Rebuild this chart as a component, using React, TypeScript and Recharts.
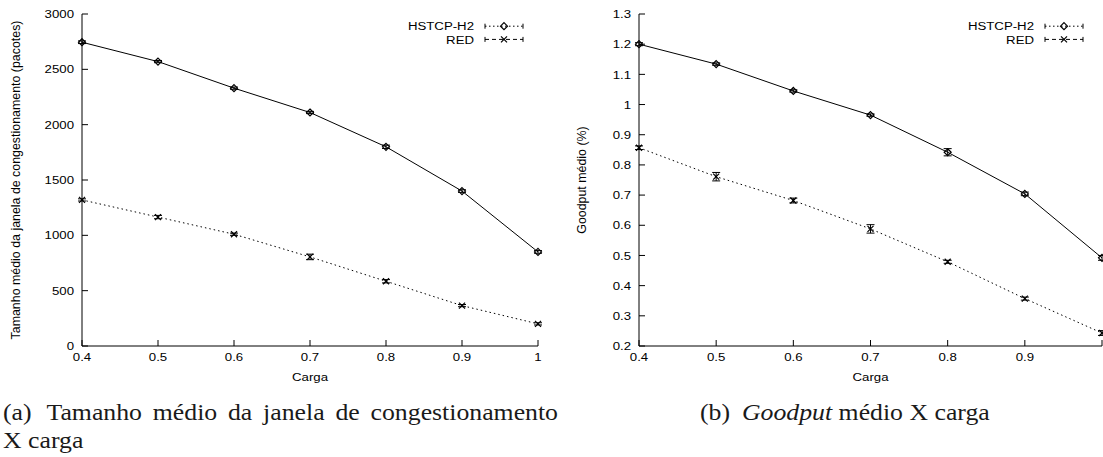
import { LineChart, Line, XAxis, YAxis, ErrorBar, Legend, Label } from 'recharts';

const carga = [0.4, 0.5, 0.6, 0.7, 0.8, 0.9, 1];

const janelaHstcp = [2745, 2570, 2330, 2110, 1800, 1400, 850];
const janelaHstcpErr = [12, 10, 10, 10, 15, 12, 12];
const janelaRed = [1320, 1165, 1010, 805, 585, 365, 200];
const janelaRedErr = [10, 15, 10, 25, 15, 10, 10];

const goodputHstcp = [1.2, 1.134, 1.045, 0.965, 0.842, 0.704, 0.492];
const goodputHstcpErr = [0.005, 0.004, 0.004, 0.004, 0.012, 0.006, 0.008];
const goodputRed = [0.857, 0.761, 0.682, 0.588, 0.479, 0.357, 0.243];
const goodputRedErr = [0.006, 0.014, 0.008, 0.014, 0.005, 0.005, 0.008];

const janelaTicks = [0, 500, 1000, 1500, 2000, 2500, 3000];
const goodputTicks = [0.2, 0.3, 0.4, 0.5, 0.6, 0.7, 0.8, 0.9, 1, 1.1, 1.2, 1.3];

const FONT = '"Liberation Sans", Arial, sans-serif';
const SERIF = '"Liberation Serif", "Times New Roman", serif';
const TICK = 6;
// the figure is a bit stretched sideways, text too
const SX = 1.15;

const fmt1 = (v: number) => (v === 1 ? '1' : v.toFixed(1));
const fmt0 = (v: number) => String(v);

const janelaData = carga.map((c, i) => ({
  carga: c,
  hstcp: janelaHstcp[i],
  hstcpErr: janelaHstcpErr[i],
  red: janelaRed[i],
  redErr: janelaRedErr[i],
}));

const goodputData = carga.map((c, i) => ({
  carga: c,
  hstcp: goodputHstcp[i],
  hstcpErr: goodputHstcpErr[i],
  red: goodputRed[i],
  redErr: goodputRedErr[i],
}));

function SText({ x, y, anchor, dy, children }: any) {
  return (
    <text
      transform={`translate(${x} ${y}) scale(${SX} 1)`}
      textAnchor={anchor}
      dy={dy}
      fontSize={11.5}
      fontFamily={FONT}
      fill="#000"
    >
      {children}
    </text>
  );
}

function Diamond({ cx, cy }: any) {
  if (cx == null || cy == null) return null;
  const s = 3.5;
  return (
    <path
      d={`M${cx},${cy - s}L${cx + s},${cy}L${cx},${cy + s}L${cx - s},${cy}Z`}
      fill="none"
      stroke="#000"
      strokeWidth={1.2}
    />
  );
}

function Cross({ cx, cy }: any) {
  if (cx == null || cy == null) return null;
  const s = 3;
  return (
    <path
      d={`M${cx - s},${cy - s}L${cx + s},${cy + s}M${cx - s},${cy + s}L${cx + s},${cy - s}`}
      stroke="#000"
      strokeWidth={1.2}
    />
  );
}

const bottomTick = (hideLast: boolean) => ({ x, y, payload }: any) => (
  <g>
    <line x1={x} x2={x} y1={y - 6} y2={y - 6 - TICK} stroke="#000" />
    {hideLast && payload.value === 1 ? null : (
      <SText x={x} y={y} dy="0.8em" anchor="middle">
        {fmt1(payload.value)}
      </SText>
    )}
  </g>
);

const topTick = ({ x, y }: any) => (
  <g>
    <line x1={x} x2={x} y1={y} y2={y + TICK} stroke="#000" />
  </g>
);

const leftTick = (fmt: (v: number) => string) => ({ x, y, payload }: any) => (
  <g>
    <line x1={x + 8} x2={x + 8 + TICK} y1={y} y2={y} stroke="#000" />
    <SText x={x} y={y} dy="0.36em" anchor="end">
      {fmt(payload.value)}
    </SText>
  </g>
);

const rightTick = ({ x, y }: any) => (
  <g>
    <line x1={x} x2={x - TICK} y1={y} y2={y} stroke="#000" />
  </g>
);

function Legenda() {
  const r1 = 6.2;
  const r2 = 19.4;
  return (
    <svg width={130} height={28} style={{ display: 'block' }}>
      <SText x={74} y={r1} dy="0.36em" anchor="end">
        HSTCP-H2
      </SText>
      <line x1={85} x2={123} y1={r1} y2={r1} stroke="#000" strokeDasharray="1.5 2.5" />
      <line x1={85} x2={85} y1={r1 - 2.5} y2={r1 + 2.5} stroke="#000" />
      <line x1={123} x2={123} y1={r1 - 2.5} y2={r1 + 2.5} stroke="#000" />
      <Diamond cx={104} cy={r1} />
      <SText x={74} y={r2} dy="0.36em" anchor="end">
        RED
      </SText>
      <line x1={85} x2={123} y1={r2} y2={r2} stroke="#000" strokeDasharray="4 3" />
      <line x1={85} x2={85} y1={r2 - 2.5} y2={r2 + 2.5} stroke="#000" />
      <line x1={123} x2={123} y1={r2 - 2.5} y2={r2 + 2.5} stroke="#000" />
      <Cross cx={104} cy={r2} />
    </svg>
  );
}

interface PainelProps {
  data: any[];
  width: number;
  marginRight: number;
  yAxisWidth: number;
  yTicks: number[];
  yDomain: [number, number];
  yFmt: (v: number) => string;
  yLabel: string;
  labelX: number;
  hideLastX?: boolean;
}

function Painel({
  data,
  width,
  marginRight,
  yAxisWidth,
  yTicks,
  yDomain,
  yFmt,
  yLabel,
  labelX,
  hideLastX = false,
}: PainelProps) {
  return (
    <LineChart width={width} height={390} data={data} margin={{ top: 14, right: marginRight, bottom: 4, left: 0 }}>
      <XAxis
        dataKey="carga"
        type="number"
        domain={[0.4, 1]}
        ticks={carga}
        interval={0}
        height={40}
        tickSize={0}
        tickMargin={6}
        tickLine={false}
        axisLine={{ stroke: '#000' }}
        tick={bottomTick(hideLastX)}
      >
        <Label
          content={({ viewBox }: any) => (
            <SText x={viewBox.x + viewBox.width / 2} y={viewBox.y + 34.5} anchor="middle">
              Carga
            </SText>
          )}
        />
      </XAxis>
      <XAxis
        xAxisId="top"
        orientation="top"
        dataKey="carga"
        type="number"
        domain={[0.4, 1]}
        ticks={carga}
        interval={0}
        height={0}
        tickSize={0}
        tickMargin={0}
        tickLine={false}
        axisLine={{ stroke: '#000' }}
        tick={topTick}
      />
      <YAxis
        type="number"
        domain={yDomain}
        ticks={yTicks}
        interval={0}
        width={yAxisWidth}
        tickSize={0}
        tickMargin={8}
        tickLine={false}
        axisLine={{ stroke: '#000' }}
        tick={leftTick(yFmt)}
        allowDataOverflow
      >
        <Label
          content={({ viewBox }: any) => {
            const cy = viewBox.y + viewBox.height / 2;
            return (
              <text
                x={labelX}
                y={cy}
                transform={`rotate(-90 ${labelX} ${cy})`}
                textAnchor="middle"
                dominantBaseline="central"
                fontSize={12.4}
                fontFamily={FONT}
                fill="#000"
              >
                {yLabel}
              </text>
            );
          }}
        />
      </YAxis>
      <YAxis
        yAxisId="right"
        orientation="right"
        type="number"
        domain={yDomain}
        ticks={yTicks}
        interval={0}
        width={0}
        tickSize={0}
        tickMargin={0}
        tickLine={false}
        axisLine={{ stroke: '#000' }}
        tick={rightTick}
        allowDataOverflow
      />
      <Legend
        layout="horizontal"
        verticalAlign="middle"
        align="center"
        content={() => <Legenda />}
        wrapperStyle={{ position: 'absolute', top: 20, left: 400, width: 130, height: 28 }}
      />
      <Line
        dataKey="hstcp"
        stroke="#000"
        strokeWidth={1}
        dot={(p: any) => <Diamond key={`d${p.index}`} cx={p.cx} cy={p.cy} />}
        activeDot={false}
        isAnimationActive={false}
      >
        <ErrorBar dataKey="hstcpErr" direction="y" width={4} stroke="#000" strokeWidth={1} isAnimationActive={false} />
      </Line>
      <Line
        dataKey="red"
        stroke="#000"
        strokeWidth={1}
        strokeDasharray="1.5 3"
        dot={(p: any) => <Cross key={`x${p.index}`} cx={p.cx} cy={p.cy} />}
        activeDot={false}
        isAnimationActive={false}
      >
        <ErrorBar dataKey="redErr" direction="y" width={4} stroke="#000" strokeWidth={1} isAnimationActive={false} />
      </Line>
    </LineChart>
  );
}

const CAP_SX = 1.12;

export default function App() {
  return (
    <div style={{ position: 'absolute', left: 0, top: 0, width: 1103, height: 457, background: '#fff', overflow: 'hidden' }}>
      <div style={{ position: 'absolute', left: 0, top: 0 }}>
        <Painel
          data={janelaData}
          width={560}
          marginRight={22}
          yAxisWidth={82}
          yTicks={janelaTicks}
          yDomain={[0, 3000]}
          yFmt={fmt0}
          yLabel="Tamanho médio da janela de congestionamento (pacotes)"
          labelX={16}
        />
      </div>
      <div style={{ position: 'absolute', left: 560, top: 0 }}>
        <Painel
          data={goodputData}
          width={543}
          marginRight={1}
          yAxisWidth={79}
          yTicks={goodputTicks}
          yDomain={[0.2, 1.3]}
          yFmt={fmt1}
          yLabel="Goodput médio (%)"
          labelX={22}
          hideLastX
        />
      </div>
      <div
        style={{
          position: 'absolute',
          left: 3,
          top: 399,
          fontFamily: SERIF,
          fontSize: 23,
          lineHeight: '27.5px',
          color: '#1a1a1a',
          transform: `scaleX(${CAP_SX})`,
          transformOrigin: 'left top',
        }}
      >
        <div style={{ display: 'flex', width: 555 / CAP_SX }}>
          <span style={{ width: 43.5 / CAP_SX, flex: 'none' }}>(a)</span>
          <span style={{ flex: 1, textAlign: 'justify', textAlignLast: 'justify' }}>
            Tamanho médio da janela de congestionamento
          </span>
        </div>
        <div>X carga</div>
      </div>
      <div
        style={{
          position: 'absolute',
          left: 700,
          top: 399,
          fontFamily: SERIF,
          fontSize: 23,
          lineHeight: '27.5px',
          color: '#1a1a1a',
          whiteSpace: 'nowrap',
          transform: `scaleX(${CAP_SX})`,
          transformOrigin: 'left top',
        }}
      >
        <span style={{ display: 'inline-block', width: 42 / CAP_SX }}>(b)</span>
        <i>Goodput</i> médio X carga
      </div>
    </div>
  );
}
